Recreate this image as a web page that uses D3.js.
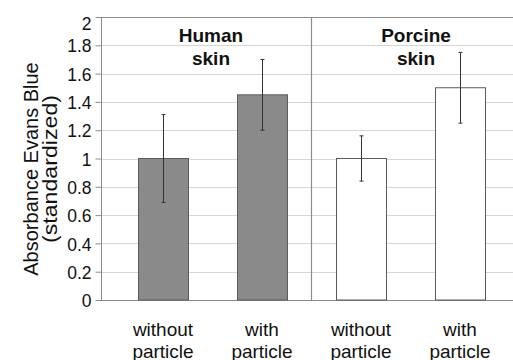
<!DOCTYPE html>
<html>
<head>
<meta charset="utf-8">
<script src="https://cdn.jsdelivr.net/npm/d3@7"></script>
<style>
  html, body { margin: 0; padding: 0; background: #fff; }
  svg { display: block; font-family: "Liberation Sans", Arial, Helvetica, sans-serif; }
</style>
</head>
<body>
<svg id="chart" width="513" height="360"></svg>
<script>
// Evans Blue absorbance, standardized to the control of each skin type
const categories = ["hum-without", "hum-with", "por-without", "por-with"];
const labelLines = [["without", "particle"], ["with", "particle"], ["without", "particle"], ["with", "particle"]];
const values = [1.0, 1.45, 1.0, 1.5];
const errors = [0.31, 0.25, 0.16, 0.25];
const groups = ["human", "porcine"];
const groupTitles = [["Human", "skin"], ["Porcine", "skin"]];
const fills = ["#8a8a8a", "#8a8a8a", "#ffffff", "#ffffff"];
const yTicks = [0, 0.2, 0.4, 0.6, 0.8, 1, 1.2, 1.4, 1.6, 1.8, 2];
const yTickLabels = ["0", "0.2", "0.4", "0.6", "0.8", "1", "1.2", "1.4", "1.6", "1.8", "2"];
const yTitle = ["Absorbance Evans Blue", "(standardized)"];

const svg = d3.select("#chart");
const plotLeft = 101, plotRight = 514, plotTop = 17, plotBottom = 300;

const y = d3.scaleLinear().domain([0, 2]).range([plotBottom, plotTop]);
const x = d3.scaleBand()
  .domain(categories)
  .range([113.5, 509.5])
  .paddingInner(0.495)
  .paddingOuter(0.2475);

// horizontal gridlines
svg.append("g")
  .selectAll("line")
  .data(yTicks.filter(d => d > 0 && d < 2))
  .join("line")
  .attr("x1", plotLeft).attr("x2", plotRight)
  .attr("y1", d => Math.round(y(d)) + 0.5).attr("y2", d => Math.round(y(d)) + 0.5)
  .attr("stroke", "#d6d6d6")
  .attr("stroke-width", 1);

// plot frame
svg.append("rect")
  .attr("x", plotLeft + 0.5).attr("y", plotTop + 0.5)
  .attr("width", plotRight - plotLeft).attr("height", plotBottom - plotTop)
  .attr("fill", "none")
  .attr("stroke", "#8c8c8c")
  .attr("stroke-width", 1);

// divider between the two skin types
const divX = (x(categories[1]) + x.bandwidth() + x(categories[2])) / 2;
svg.append("line")
  .attr("x1", divX).attr("x2", divX)
  .attr("y1", plotTop).attr("y2", plotBottom)
  .attr("stroke", "#8c8c8c")
  .attr("stroke-width", 1.2);

// y axis
const yAxis = d3.axisLeft(y)
  .tickValues(yTicks)
  .tickFormat((d, i) => yTickLabels[i])
  .tickSize(6)
  .tickPadding(4);
const ya = svg.append("g")
  .attr("transform", `translate(${plotLeft + 0.5},0)`)
  .call(yAxis);
ya.select(".domain").remove();
ya.selectAll(".tick line").attr("stroke", "#8c8c8c");
ya.selectAll(".tick text")
  .attr("font-size", 17.5)
  .attr("font-family", "Liberation Sans, Arial, sans-serif")
  .attr("fill", "#111")
  .attr("dy", d => d === 2 ? "0.72em" : "0.38em");

// bars
svg.append("g")
  .selectAll("rect")
  .data(values)
  .join("rect")
  .attr("x", (d, i) => x(categories[i]) + 0.5)
  .attr("y", d => y(d))
  .attr("width", x.bandwidth())
  .attr("height", d => plotBottom - y(d))
  .attr("fill", (d, i) => fills[i])
  .attr("stroke", "#5a5a5a")
  .attr("stroke-width", 1);

// error bars
const eb = svg.append("g").attr("stroke", "#333").attr("stroke-width", 1);
values.forEach((v, i) => {
  const cx = Math.round(x(categories[i]) + x.bandwidth() / 2) + 0.5;
  const y1 = y(v + errors[i]), y0 = y(v - errors[i]);
  eb.append("line").attr("x1", cx).attr("x2", cx).attr("y1", y1).attr("y2", y0);
  eb.append("line").attr("x1", cx - 2).attr("x2", cx + 2).attr("y1", y1).attr("y2", y1);
  eb.append("line").attr("x1", cx - 2).attr("x2", cx + 2).attr("y1", y0).attr("y2", y0);
});

// group titles
const groupDx = [-1.5, 5.5];
groups.forEach((g, gi) => {
  const a = categories[gi * 2], b = categories[gi * 2 + 1];
  const cx = (x(a) + x(b) + x.bandwidth()) / 2 + groupDx[gi];
  const t = svg.append("text")
    .attr("x", cx).attr("y", 42)
    .attr("text-anchor", "middle")
    .attr("font-size", 19)
    .attr("font-weight", "bold")
    .attr("fill", "#111");
  groupTitles[gi].forEach((line, li) => {
    t.append("tspan").attr("x", cx).attr("dy", li === 0 ? 0 : 23).text(line);
  });
});

// category labels
categories.forEach((c, i) => {
  const cx = x(c) + x.bandwidth() / 2;
  const t = svg.append("text")
    .attr("x", cx).attr("y", 336)
    .attr("text-anchor", "middle")
    .attr("font-size", 19)
    .attr("fill", "#111");
  labelLines[i].forEach((line, li) => {
    t.append("tspan").attr("x", cx).attr("dy", li === 0 ? 0 : 21.5).text(line);
  });
});

// y axis title, two rotated lines
const yt = svg.append("g")
  .attr("transform", "translate(38,169) rotate(-90)");
yTitle.forEach((line, li) => {
  const t = yt.append("text")
    .attr("x", 0).attr("y", li * 19)
    .attr("text-anchor", "middle")
    .attr("font-size", 20)
    .attr("fill", "#111")
    .text(line);
  if (li === 1) t.attr("textLength", 148).attr("lengthAdjust", "spacingAndGlyphs");
});
</script>
</body>
</html>
